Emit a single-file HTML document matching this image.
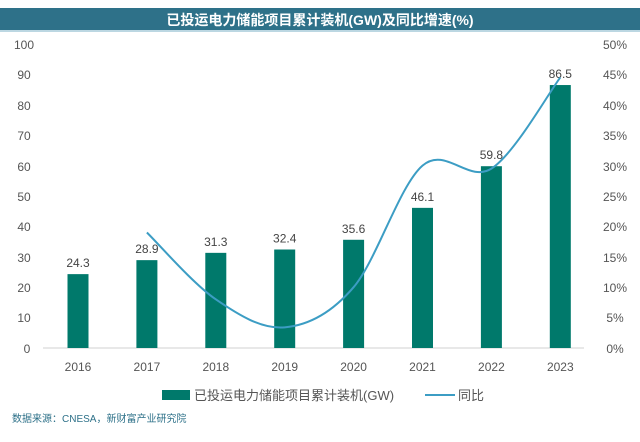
<!DOCTYPE html>
<html><head><meta charset="utf-8"><style>
body{margin:0;background:#fff;width:640px;height:437px;overflow:hidden;font-family:"Liberation Sans","Noto Sans CJK SC",sans-serif;}
</style></head><body>
<svg width="640" height="437" xmlns="http://www.w3.org/2000/svg" font-family="Liberation Sans, Noto Sans CJK SC, sans-serif">
<rect x="0" y="8" width="640" height="22" fill="#2e7189"/>
<rect x="0" y="30" width="640" height="2" fill="#bcd7e2"/>
<text x="320" y="25" text-anchor="middle" fill="#fff" font-size="14" font-weight="bold">已投运电力储能项目累计装机(GW)及同比增速(%)</text>
<g font-size="12" fill="#555" transform="translate(0,-3)">
<text x="24" y="52" text-anchor="middle">100</text>
<text x="24" y="82" text-anchor="middle">90</text>
<text x="24" y="113" text-anchor="middle">80</text>
<text x="24" y="143" text-anchor="middle">70</text>
<text x="24" y="174" text-anchor="middle">60</text>
<text x="24" y="204" text-anchor="middle">50</text>
<text x="24" y="234" text-anchor="middle">40</text>
<text x="24" y="265" text-anchor="middle">30</text>
<text x="24" y="295" text-anchor="middle">20</text>
<text x="24" y="325" text-anchor="middle">10</text>
<text x="27" y="356" text-anchor="middle">0</text>
<text x="615" y="52" text-anchor="middle">50%</text>
<text x="615" y="82" text-anchor="middle">45%</text>
<text x="615" y="113" text-anchor="middle">40%</text>
<text x="615" y="143" text-anchor="middle">35%</text>
<text x="615" y="174" text-anchor="middle">30%</text>
<text x="615" y="204" text-anchor="middle">25%</text>
<text x="615" y="234" text-anchor="middle">20%</text>
<text x="615" y="265" text-anchor="middle">15%</text>
<text x="615" y="295" text-anchor="middle">10%</text>
<text x="615" y="325" text-anchor="middle">5%</text>
<text x="615" y="356" text-anchor="middle">0%</text>
</g>
<line x1="43" y1="348" x2="584" y2="348" stroke="#d0d0d0" stroke-width="1"/>
<g id="bars"></g>
<path id="ln" fill="none" stroke="#3c9dc4" stroke-width="2"/>
<rect x="162" y="390" width="28" height="10" fill="#00796b"/>
<text x="194" y="400" font-size="13" fill="#555">已投运电力储能项目累计装机(GW)</text>
<line x1="425" y1="395" x2="455" y2="395" stroke="#3c9dc4" stroke-width="2"/>
<text x="458" y="400" font-size="13" fill="#555">同比</text>
<text x="12" y="422" font-size="10" fill="#2e7189">数据来源：CNESA，新财富产业研究院</text>
</svg>
<script>
var v=[24.3,28.9,31.3,32.4,35.6,46.1,59.8,86.5];
var g=document.getElementById('bars'),s='';
for(var i=0;i<8;i++){var cx=78+i*68.9,h=v[i]*3.04;
s+='<rect x="'+(cx-10.5)+'" y="'+(348-h)+'" width="21" height="'+h+'" fill="#00796b"/>';
s+='<text x="'+cx+'" y="'+(348-h-7)+'" text-anchor="middle" font-size="12" fill="#444">'+v[i]+'</text>';
s+='<text x="'+cx+'" y="371" text-anchor="middle" font-size="12" fill="#555">'+(2016+i)+'</text>';}
g.innerHTML=s;
var p=[19,8,3.4,10,30,29.5,44.5].map(function(y,i){return [146.9+i*68.9,348-y*6.08];});
var d='M'+p[0][0]+','+p[0][1];
for(var i=0;i<p.length-1;i++){var p0=p[i-1]||p[i],p1=p[i],p2=p[i+1],p3=p[i+2]||p2;var t=6;
d+=' C'+(p1[0]+(p2[0]-p0[0])/t)+','+(p1[1]+(p2[1]-p0[1])/t)+' '+(p2[0]-(p3[0]-p1[0])/t)+','+(p2[1]-(p3[1]-p1[1])/t)+' '+p2[0]+','+p2[1];}
document.getElementById('ln').setAttribute('d',d);
</script>
</body></html>
